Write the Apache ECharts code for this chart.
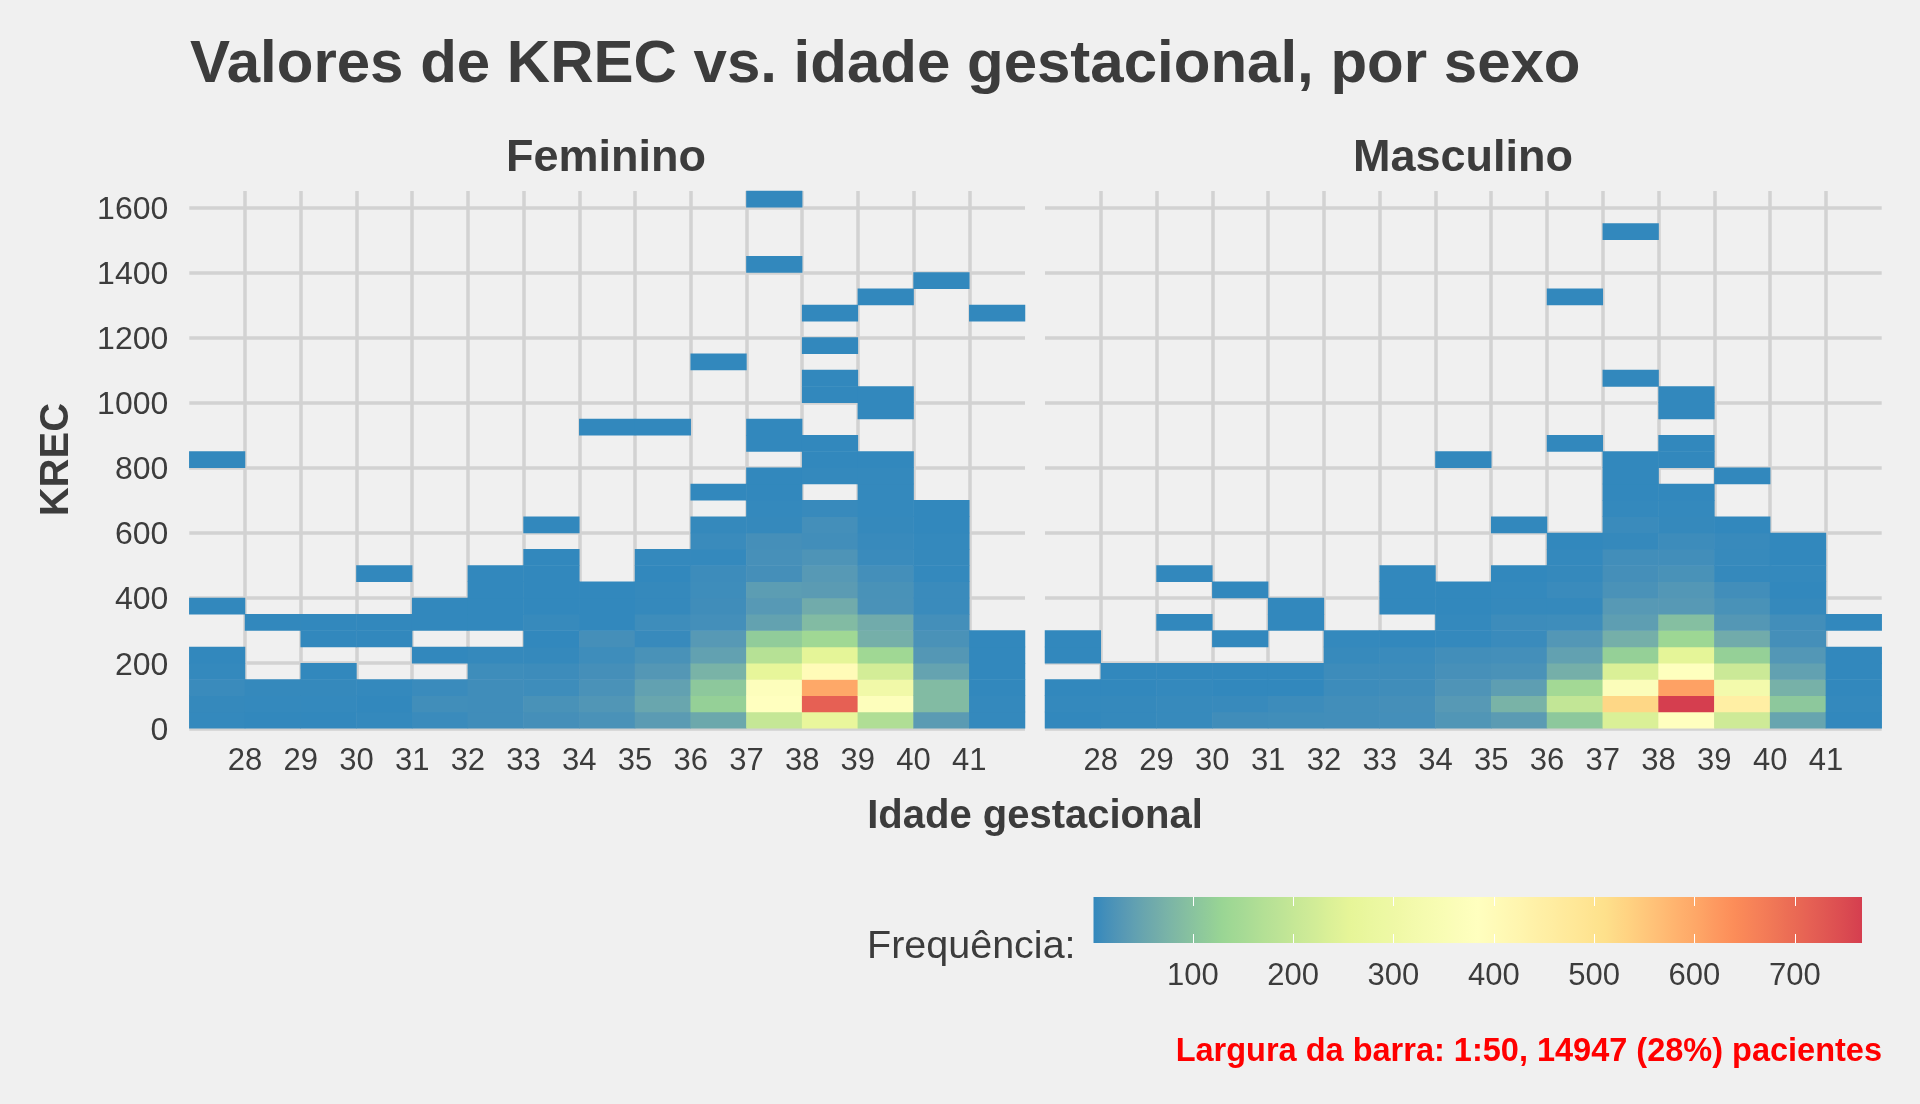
<!DOCTYPE html>
<html><head><meta charset="utf-8">
<style>html,body{margin:0;padding:0;background:#f0f0f0}#c{width:1920px;height:1104px}</style>
<script src="https://cdn.jsdelivr.net/npm/echarts@6/dist/echarts.min.js"></script>
</head><body><div id="c"></div>
<script>
// gestational-week columns (left edge of each 1-week bar)
const weeks = [27,28,29,30,31,32,33,34,35,36,37,38,39,40,41];
const binWidth = 50; const binCount = 33; // KREC bins: index k = [k*50,(k+1)*50)

// counts per KREC bin (index = bin), Feminino
const fem27 = [2,3,6,2,1,0,0,1,0,0,0,0,0,0,0,0,1];
const fem28 = [1,2,3,0,0,0,1];
const fem29 = [1,2,3,1,0,1,1];
const fem30 = [2,1,2,0,0,1,1,0,0,1];
const fem31 = [6,11,6,0,1,0,1,1];
const fem32 = [10,10,10,9,3,0,1,1,1,1];
const fem33 = [14,18,9,8,3,1,4,1,1,1,1,0,1];
const fem34 = [19,25,19,14,9,14,1,1,1,0,0,0,0,0,0,0,0,0,1];
const fem35 = [35,52,43,28,18,5,9,3,3,1,2,0,0,0,0,0,0,0,1];
const fem36 = [56,121,107,74,43,31,13,10,9,8,2,6,3,0,1,0,0,0,0,0,0,0,1];
const fem37 = [200,385,375,262,175,114,45,31,37,14,16,14,3,2,1,1,0,1,1,0,0,0,0,0,0,0,0,0,1,0,0,0,1];
const fem38 = [270,715,600,400,255,140,87,62,35,31,22,12,13,5,0,2,1,1,0,0,1,1,0,1,0,1];
const fem39 = [165,375,310,225,140,68,62,19,18,13,6,5,3,2,2,2,1,0,0,1,1,0,0,0,0,0,1];
const fem40 = [35,87,87,47,28,19,13,6,6,2,3,2,1,1,0,0,0,0,0,0,0,0,0,0,0,0,0,1];
const fem41 = [2,2,1,1,1,1,0,0,0,0,0,0,0,0,0,0,0,0,0,0,0,0,0,0,0,1];

// counts per KREC bin (index = bin), Masculino
const mas27 = [1,2,1,0,1,1];
const mas28 = [3,3,1,1];
const mas29 = [4,4,2,1,0,0,1,0,0,1];
const mas30 = [10,5,1,1,0,1,0,0,1];
const mas31 = [11,8,1,1,0,0,1,1];
const mas32 = [12,12,8,8,4,2];
const mas33 = [13,14,10,8,6,1,0,1,1,1];
const mas34 = [25,31,23,16,12,2,2,1,1,0,0,0,0,0,0,0,1];
const mas35 = [35,74,39,19,13,6,8,3,2,1,0,0,1];
const mas36 = [107,195,145,68,43,27,9,3,6,3,2,1,0,0,0,0,0,1,0,0,0,0,0,0,0,0,1];
const mas37 = [235,525,365,235,121,68,39,31,19,14,12,3,6,2,1,1,1,0,0,0,0,1,0,0,0,0,0,0,0,0,1];
const mas38 = [385,767,610,380,255,135,93,31,27,18,12,8,3,2,1,0,1,1,0,1,1];
const mas39 = [215,450,320,210,121,62,28,18,12,3,4,5,1,0,0,1];
const mas40 = [50,107,71,43,27,14,12,3,1,2,1,1];
const mas41 = [1,2,1,1,1,0,1];

const feminino = [fem27,fem28,fem29,fem30,fem31,fem32,fem33,fem34,fem35,fem36,fem37,fem38,fem39,fem40,fem41];
const masculino = [mas27,mas28,mas29,mas30,mas31,mas32,mas33,mas34,mas35,mas36,mas37,mas38,mas39,mas40,mas41];

const yTicks = [0,200,400,600,800,1000,1200,1400,1600];
const legendTicks = [100,200,300,400,500,600,700];
const freqMin = 1, freqMax = 767;
const spectral = ['#3288bd','#99d594','#e6f598','#ffffbf','#fee08b','#fc8d59','#d53e4f'];

const titleText = 'Valores de KREC vs. idade gestacional, por sexo';
const panelNames = ['Feminino','Masculino'];
const xName = 'Idade gestacional', yName = 'KREC', legendName = 'Frequência:';
const note = 'Largura da barra: 1:50, 14947 (28%) pacientes';

const INK = '#3c3c3c', GRID = '#d2d2d2', FF = '"Liberation Sans", Arial, sans-serif';
const T = 191, H = 537.3;
const rects = [{left:189.3, top:T, width:835.7, height:H},{left:1045, top:T, width:836.7, height:H}];

// colour ramp: the seven stops interpolated in CIE Lab
function hex2lab(h){
  const c=[1,3,5].map(i=>parseInt(h.substr(i,2),16)/255).map(u=>u<=0.04045?u/12.92:Math.pow((u+0.055)/1.055,2.4));
  const X=(0.4124564*c[0]+0.3575761*c[1]+0.1804375*c[2])/0.95047,
        Y=0.2126729*c[0]+0.7151522*c[1]+0.0721750*c[2],
        Z=(0.0193339*c[0]+0.1191920*c[1]+0.9503041*c[2])/1.08883;
  const f=t=>t>0.008856?Math.cbrt(t):7.787*t+16/116;
  return [116*f(Y)-16,500*(f(X)-f(Y)),200*(f(Y)-f(Z))];
}
function lab2rgb(l){
  const fy=(l[0]+16)/116,fx=l[1]/500+fy,fz=fy-l[2]/200;
  const g=t=>t*t*t>0.008856?t*t*t:(t-16/116)/7.787;
  const X=g(fx)*0.95047,Y=g(fy),Z=g(fz)*1.08883;
  const lin=[3.2404542*X-1.5371385*Y-0.4985314*Z,-0.9692660*X+1.8760108*Y+0.0415560*Z,0.0556434*X-0.2040259*Y+1.0572252*Z];
  const v=lin.map(u=>u<=0.0031308?12.92*u:1.055*Math.pow(Math.max(u,0),1/2.4)-0.055)
             .map(u=>Math.round(Math.min(1,Math.max(0,u))*255));
  return 'rgb('+v.join(',')+')';
}
const ramp=[];
for(let s=0;s<spectral.length-1;s++){
  const a=hex2lab(spectral[s]),b=hex2lab(spectral[s+1]);
  for(let j=0;j<12;j++){ const t=j/12; ramp.push(lab2rgb(a.map((x,i)=>x+(b[i]-x)*t))); }
}
ramp.push(spectral[spectral.length-1]);

function cells(cols){
  const out=[];
  cols.forEach((c,i)=>c.forEach((v,k)=>{ if(v>0) out.push([i,k,v]); }));
  return out;
}
const binLabels = Array.from({length:binCount},(_,k)=>String(k*binWidth));
const weekLabels = weeks.map(String);

const grid = [rects[0],rects[1],rects[0],rects[1],{left:1093.5,top:897,width:768.5,height:46}];
const xAxis = [0,1].map(i=>({
  type:'value',gridIndex:i,min:27,max:42,interval:1,position:'bottom',
  axisLine:{show:false},axisTick:{show:false},
  axisLabel:{color:INK,fontFamily:FF,fontSize:31,margin:18,showMinLabel:false,showMaxLabel:false,
    hideOverlap:false,formatter:v=>(v>=28&&v<=41)?String(v):''},
  splitLine:{show:true,showMinLine:false,showMaxLine:false,lineStyle:{color:GRID,width:3.5}}
})).concat([2,3].map(i=>({type:'category',gridIndex:i,data:weekLabels,show:false,boundaryGap:true})));
const yAxis = [0,1].map(i=>({
  type:'value',gridIndex:i,min:0,max:1650,interval:200,position:'left',
  axisLine:{show:false},axisTick:{show:false},
  name:i===0?yName:'',nameLocation:'middle',nameRotate:90,nameGap:112,
  nameTextStyle:{color:INK,fontFamily:FF,fontSize:40,fontWeight:'bold'},
  axisLabel:{show:i===0,color:INK,fontFamily:FF,fontSize:32,margin:21,showMaxLabel:false,
    verticalAlign:'top',lineHeight:5,
    formatter:v=>yTicks.includes(v)?String(v):''},
  splitLine:{show:true,showMaxLine:false,lineStyle:{color:GRID,width:3.5}}
})).concat([2,3].map(i=>({type:'category',gridIndex:i,data:binLabels,show:false,boundaryGap:true})));

// legend axis
xAxis.push({type:'value',gridIndex:4,min:freqMin,max:freqMax,position:'bottom',z:5,
  axisLine:{show:false},
  axisTick:{show:true,inside:true,length:9,customValues:legendTicks,lineStyle:{color:'#ffffff',width:1}},
  axisLabel:{color:INK,fontFamily:FF,fontSize:31,margin:18,customValues:legendTicks,formatter:v=>String(v)},
  splitLine:{show:false}});
xAxis.push({type:'value',gridIndex:4,min:freqMin,max:freqMax,position:'top',z:5,
  axisLine:{show:false},
  axisTick:{show:true,inside:true,length:9,customValues:legendTicks,lineStyle:{color:'#ffffff',width:1}},
  axisLabel:{show:false},splitLine:{show:false}});
yAxis.push({type:'value',gridIndex:4,min:0,max:1,show:false});

const option = {
  backgroundColor:'#f0f0f0',animation:false,
  title:[
    {text:titleText,left:190,top:35,padding:0,textStyle:{color:INK,fontFamily:FF,fontSize:60,fontWeight:'bold'}},
    {text:panelNames[0],left:606,top:136,padding:0,textAlign:'center',textStyle:{color:INK,fontFamily:FF,fontSize:45,fontWeight:'bold'}},
    {text:panelNames[1],left:1463,top:136,padding:0,textAlign:'center',textStyle:{color:INK,fontFamily:FF,fontSize:45,fontWeight:'bold'}},
    {text:xName,left:1035,top:797,padding:0,textAlign:'center',textStyle:{color:INK,fontFamily:FF,fontSize:40,fontWeight:'bold'}},
    {text:legendName,left:867,top:927.5,padding:0,textStyle:{color:INK,fontFamily:FF,fontSize:39.5,fontWeight:'normal'}},
    {text:note,left:1882,top:1035.5,padding:0,textAlign:'right',textStyle:{color:'#ff0000',fontFamily:FF,fontSize:32.5,fontWeight:'bold'}}
  ],
  grid,xAxis,yAxis,
  visualMap:{show:false,type:'continuous',min:freqMin,max:freqMax,seriesIndex:[0,1],dimension:2,inRange:{color:ramp}},
  series:[
    {type:'heatmap',name:panelNames[0],xAxisIndex:2,yAxisIndex:2,data:cells(feminino),silent:true,emphasis:{disabled:true},z:2},
    {type:'heatmap',name:panelNames[1],xAxisIndex:3,yAxisIndex:3,data:cells(masculino),silent:true,emphasis:{disabled:true},z:2},
    {type:'custom',name:legendName,xAxisIndex:4,yAxisIndex:4,silent:true,z:2,clip:false,
     data:[[freqMin,0,freqMax,1]],
     encode:{x:[0,2],y:[1,3]},
     renderItem:(p,api)=>{
       const a=api.coord([api.value(0),api.value(3)]),b=api.coord([api.value(2),api.value(1)]);
       return {type:'rect',shape:{x:a[0],y:a[1],width:b[0]-a[0],height:b[1]-a[1]},
         style:{fill:new echarts.graphic.LinearGradient(0,0,1,0,ramp.map((c,i)=>({offset:i/(ramp.length-1),color:c})))}};
     }}
  ]
};
const chart = echarts.init(document.getElementById('c'),null,{renderer:'canvas',width:1920,height:1104});
chart.setOption(option);
</script></body></html>
